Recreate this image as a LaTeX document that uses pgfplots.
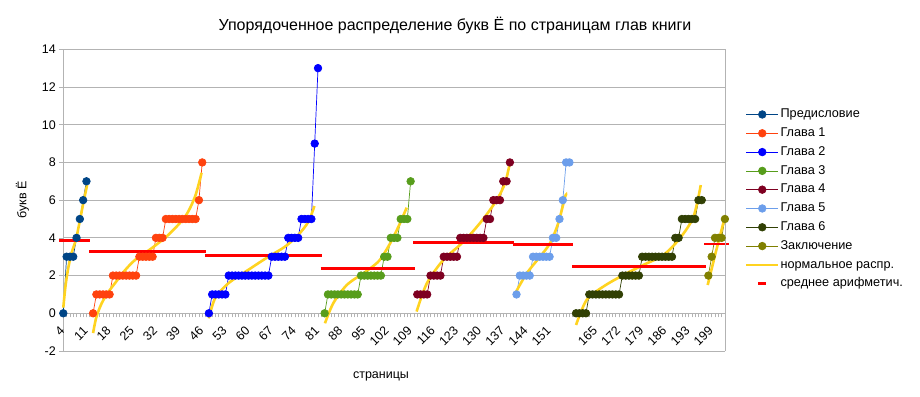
\documentclass[border=0pt]{standalone}
\usepackage{fontspec}
\setmainfont{Liberation Sans}
\usepackage{pgfplots}
\pgfplotsset{compat=1.18}
\definecolor{cPre}{HTML}{004586}
\definecolor{cGa}{HTML}{FF420E}
\definecolor{cGb}{HTML}{0000FF}
\definecolor{cGc}{HTML}{579D1C}
\definecolor{cGd}{HTML}{7E0021}
\definecolor{cGe}{HTML}{6C9EEB}
\definecolor{cGf}{HTML}{314004}
\definecolor{cZak}{HTML}{808000}
\definecolor{cYel}{HTML}{FFD320}
\definecolor{cGrid}{HTML}{B3B3B3}
\begin{document}
\begin{tikzpicture}[x=1pt,y=1pt]
\path[use as bounding box] (0,0) rectangle (920,396);
\node[font=\fontsize{16}{19}\selectfont] at (455,371) {Упорядоченное распределение букв Ё по страницам глав книги};
\node[font=\fontsize{12.5}{15}\selectfont, rotate=90] at (22.5,196) {букв Ё};
\node[font=\fontsize{12.5}{15}\selectfont] at (381,19.3) {страницы};
\begin{axis}[
  at={(63.3pt,45pt)}, anchor=south west,
  scale only axis, width=661.6pt, height=301.7pt,
  xmin=0, xmax=200, ymin=-2, ymax=14,
  clip=false,
  axis x line*=middle, axis y line*=left,
  axis line style={cGrid, line width=0.8pt, -},
  ytick={-2,0,2,4,6,8,10,12,14},
  ymajorgrids, major grid style={cGrid, line width=0.8pt},
  xtick={0,7,14,21,28,35,42,49,56,63,70,77,84,91,98,105,112,119,126,133,140,147,161,168,175,182,189,196},
  xticklabels={4,11,18,25,32,39,46,53,60,67,74,81,88,95,102,109,116,123,130,137,144,151,165,172,179,186,193,199},
  minor xtick={0,1,...,200},
  tick align=outside,
  major tick length=4pt, minor tick length=4pt,
  tick style={cGrid, line width=0.6pt},
  hide obscured x ticks=false,
  xticklabel style={xshift=1.5pt, yshift=-9pt, rotate=45, anchor=east, font=\fontsize{12.5}{15}\selectfont},
  yticklabel style={font=\fontsize{12.5}{15}\selectfont},
  /pgf/number format/assume math mode=true,
  legend image code/.code={\draw[mark repeat=2,mark phase=2,#1] plot coordinates {(0pt,0pt) (16pt,0pt) (32pt,0pt)};},
  legend style={at={(1.030,0.807)}, anchor=north west, draw=none, fill=none, inner sep=0pt,
    font=\fontsize{12.7}{15}\selectfont, row sep=5.3pt,
    nodes={inner sep=1pt, text height=9pt, text depth=2.5pt}},
  legend cell align=left,
]
\addplot[cPre, line width=0.7pt, mark=*, mark size=3.8pt] coordinates {(0,0)(1,3)(2,3)(3,3)(4,4)(5,5)(6,6)(7,7)};
\addlegendentry{Предисловие}
\addplot[cGa, line width=0.7pt, mark=*, mark size=3.8pt] coordinates {(9,0)(10,1)(11,1)(12,1)(13,1)(14,1)(15,2)(16,2)(17,2)(18,2)(19,2)(20,2)(21,2)(22,2)(23,3)(24,3)(25,3)(26,3)(27,3)(28,4)(29,4)(30,4)(31,5)(32,5)(33,5)(34,5)(35,5)(36,5)(37,5)(38,5)(39,5)(40,5)(41,6)(42,8)};
\addlegendentry{Глава 1}
\addplot[cGb, line width=0.7pt, mark=*, mark size=3.8pt] coordinates {(44,0)(45,1)(46,1)(47,1)(48,1)(49,1)(50,2)(51,2)(52,2)(53,2)(54,2)(55,2)(56,2)(57,2)(58,2)(59,2)(60,2)(61,2)(62,2)(63,3)(64,3)(65,3)(66,3)(67,3)(68,4)(69,4)(70,4)(71,4)(72,5)(73,5)(74,5)(75,5)(76,9)(77,13)};
\addlegendentry{Глава 2}
\addplot[cGc, line width=0.7pt, mark=*, mark size=3.8pt] coordinates {(79,0)(80,1)(81,1)(82,1)(83,1)(84,1)(85,1)(86,1)(87,1)(88,1)(89,1)(90,2)(91,2)(92,2)(93,2)(94,2)(95,2)(96,2)(97,3)(98,3)(99,4)(100,4)(101,4)(102,5)(103,5)(104,5)(105,7)};
\addlegendentry{Глава 3}
\addplot[cGd, line width=0.7pt, mark=*, mark size=3.8pt] coordinates {(107,1)(108,1)(109,1)(110,1)(111,2)(112,2)(113,2)(114,2)(115,3)(116,3)(117,3)(118,3)(119,3)(120,4)(121,4)(122,4)(123,4)(124,4)(125,4)(126,4)(127,4)(128,5)(129,5)(130,6)(131,6)(132,6)(133,7)(134,7)(135,8)};
\addlegendentry{Глава 4}
\addplot[cGe, line width=0.7pt, mark=*, mark size=3.8pt] coordinates {(137,1)(138,2)(139,2)(140,2)(141,2)(142,3)(143,3)(144,3)(145,3)(146,3)(147,3)(148,4)(149,4)(150,5)(151,6)(152,8)(153,8)};
\addlegendentry{Глава 5}
\addplot[cGf, line width=0.7pt, mark=*, mark size=3.8pt] coordinates {(155,0)(156,0)(157,0)(158,0)(159,1)(160,1)(161,1)(162,1)(163,1)(164,1)(165,1)(166,1)(167,1)(168,1)(169,2)(170,2)(171,2)(172,2)(173,2)(174,2)(175,3)(176,3)(177,3)(178,3)(179,3)(180,3)(181,3)(182,3)(183,3)(184,3)(185,4)(186,4)(187,5)(188,5)(189,5)(190,5)(191,5)(192,6)(193,6)};
\addlegendentry{Глава 6}
\addplot[cZak, line width=0.7pt, mark=*, mark size=3.8pt] coordinates {(195,2)(196,3)(197,4)(198,4)(199,4)(200,5)};
\addlegendentry{Заключение}
% normal distribution curves
\addplot[cYel, line width=2.6pt, smooth, tension=0.5] coordinates {(0,0.3)(0.7,1.5)(1.5,2.4)(2.5,3.2)(3.8,3.9)(5,4.9)(6,5.8)(7.2,6.8)};
\addlegendentry{нормальное распр.}
\addplot[cYel, line width=2.6pt, smooth, tension=0.5, forget plot] coordinates {(9,-1.05)(10,-0.2)(11.6,0.53)(13.5,1.1)(15.6,1.59)(18.5,2.25)(21.7,2.83)(26.7,3.45)(31.7,4.15)(36.8,5.12)(39.8,6.18)(41.8,7.45)};
\addplot[cYel, line width=2.6pt, smooth, tension=0.5, forget plot] coordinates {(44,-0.27)(45.9,0.8)(49.9,1.59)(55.9,2.3)(62,3.0)(67,3.53)(71,4.15)(74.1,4.86)(75.9,5.69)};
\addplot[cYel, line width=2.6pt, smooth, tension=0.5, forget plot] coordinates {(79.1,-0.53)(81.6,0.53)(85.7,1.5)(90.7,2.12)(92.7,2.37)(95.7,2.83)(98.8,3.71)(101.3,4.59)(103.8,5.6)};
\addplot[cYel, line width=2.6pt, smooth, tension=0.5, forget plot] coordinates {(106.8,0.09)(109.9,1.59)(114.9,2.83)(121,3.8)(126.5,4.9)(131,6.0)(133.5,6.89)(134.8,7.81)};
\addplot[cYel, line width=2.6pt, smooth, tension=0.5, forget plot] coordinates {(136.9,1.15)(140.1,2.12)(144.1,3.0)(147.1,3.71)(149.6,4.77)(151.7,6.18)(152,6.25)};
\addplot[cYel, line width=2.6pt, smooth, tension=0.5, forget plot] coordinates {(155,-0.62)(158.2,0.71)(163.2,1.41)(169.3,2.03)(175.3,2.56)(181.4,3.09)(186.4,3.98)(190.5,5.12)(192.7,6.8)};
\addplot[cYel, line width=2.6pt, smooth, tension=0.5, forget plot] coordinates {(194.8,1.5)(197.4,3.35)(200,5.1)};
% means
\addplot[red, line width=2.7pt, forget plot] coordinates {(-1.2,3.875)(8.2,3.875)};
\addplot[red, line width=2.7pt, forget plot] coordinates {(7.8,3.294)(43.2,3.294)};
\addplot[red, line width=2.7pt, forget plot] coordinates {(42.8,3.059)(78.2,3.059)};
\addplot[red, line width=2.7pt, forget plot] coordinates {(77.8,2.370)(106.2,2.370)};
\addplot[red, line width=2.7pt, forget plot] coordinates {(105.8,3.759)(136.2,3.759)};
\addplot[red, line width=2.7pt, forget plot] coordinates {(135.8,3.647)(154.2,3.647)};
\addplot[red, line width=2.7pt, forget plot] coordinates {(153.8,2.487)(194.2,2.487)};
\addplot[red, line width=2.7pt, forget plot] coordinates {(193.8,3.667)(201.2,3.667)};
\addlegendimage{legend image code/.code={\draw[red, line width=2.5pt] (12pt,0pt) -- (20pt,0pt);}}
\addlegendentry{среднее арифметич.}
\draw[cGrid, line width=0.8pt] (rel axis cs:1,0) -- (rel axis cs:1,1);
\end{axis}
\end{tikzpicture}
\end{document}
